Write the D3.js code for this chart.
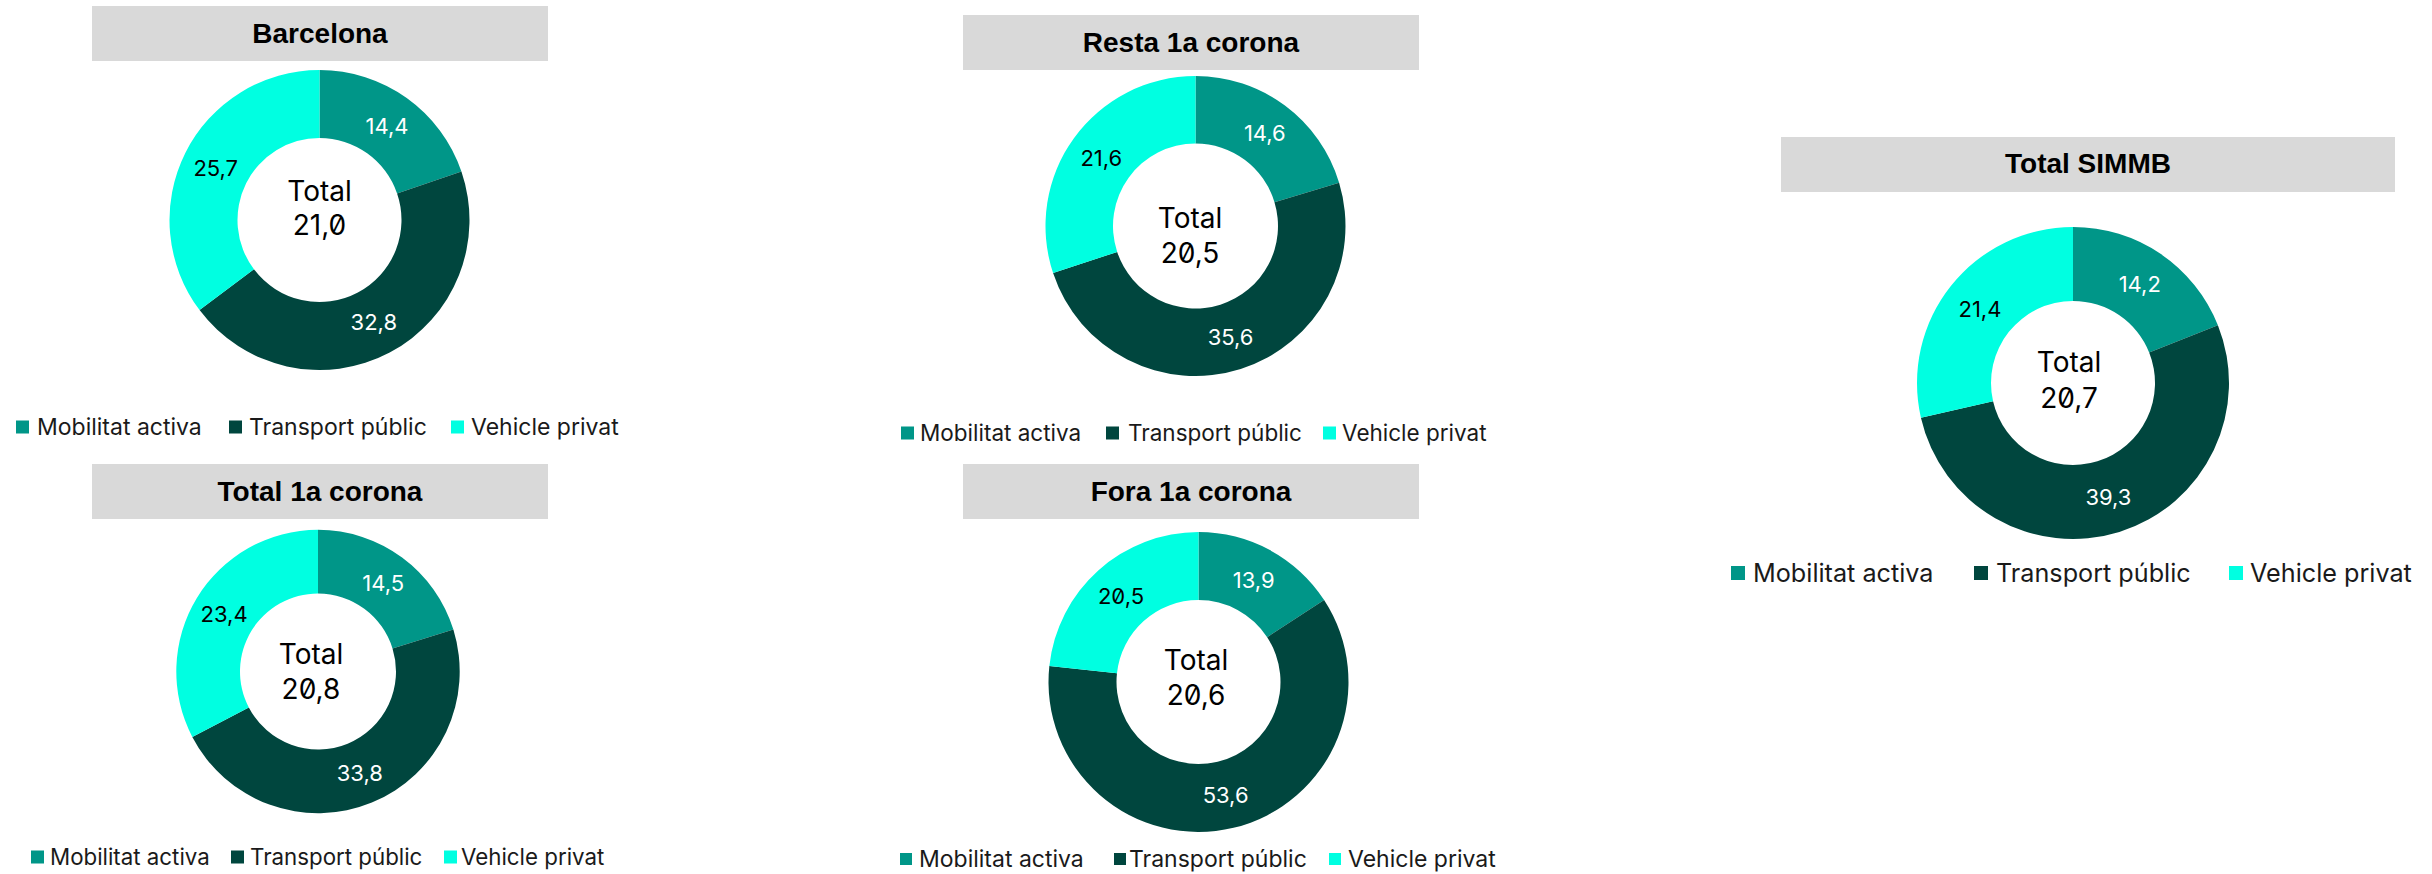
<!DOCTYPE html>
<html>
<head>
<meta charset="utf-8">
<script src="https://cdn.jsdelivr.net/npm/d3@7"></script>
<style>
  body { margin: 0; background: #fff; }
  svg { display: block; font-family: "Inter", "Roboto", sans-serif; }
  .num { font-feature-settings: "zero" 1; }
</style>
</head>
<body>
<svg id="chart" width="2432" height="874"></svg>
<script>
var categories = ['Mobilitat activa', 'Transport públic', 'Vehicle privat'];
var colors = ['#009688', '#00463e', '#00ffe1'];
var labelColors = ['#ffffff', '#ffffff', '#000000'];

var panelTitles = ['Barcelona', 'Resta 1a corona', 'Total 1a corona', 'Fora 1a corona', 'Total SIMMB'];
var mobilitatActiva = [14.4, 14.6, 14.5, 13.9, 14.2];
var transportPublic = [32.8, 35.6, 33.8, 53.6, 39.3];
var vehiclePrivat = [25.7, 21.6, 23.4, 20.5, 21.4];
var totals = [21.0, 20.5, 20.8, 20.6, 20.7];

// placement of each donut on the page (the source is a collage, nothing lines up exactly)
var layout = [
  {box: [92, 6, 548, 61], titleY: 43, cx: 319.5, cy: 220, r: 150, rIn: 82,
   centerX: 319.5, centerY: [191, 225], legendY: 427, sq: [16, 229, 451], tx: [37, 249, 471], sqSize: 13, legendFont: 23},
  {box: [963, 15, 1419, 70], titleY: 52, cx: 1195.5, cy: 226, r: 150, rIn: 82.5,
   centerX: 1190, centerY: [218, 253], legendY: 433, sq: [901, 1106, 1323], tx: [920, 1128, 1342], sqSize: 13, legendFont: 22.5},
  {box: [92, 464, 548, 519], titleY: 501, cx: 318, cy: 671.5, r: 141.7, rIn: 78,
   centerX: 311, centerY: [654, 689], legendY: 857, sq: [31, 231, 444], tx: [50, 250, 461], sqSize: 13, legendFont: 22.3},
  {box: [963, 464, 1419, 519], titleY: 501, cx: 1198.5, cy: 682, r: 150, rIn: 82,
   centerX: 1196, centerY: [660, 695], legendY: 859, sq: [900, 1114, 1329], tx: [919, 1129, 1348], sqSize: 12, legendFont: 23},
  {box: [1781, 137, 2395, 192], titleY: 173, cx: 2073, cy: 383, r: 156, rIn: 82,
   centerX: 2069, centerY: [362, 398], legendY: 573, sq: [1731, 1974, 2229], tx: [1753, 1996, 2250], sqSize: 14, legendFont: 25.2}
];

var fmt = (v) => d3.format('.1f')(v).replace('.', ',');

var svg = d3.select('#chart');

var pie = d3.pie().sort(null).value((d) => d.value);

panelTitles.forEach(function(title, i) {
  var L = layout[i];
  var data = categories.map((c, k) => ({
    key: c,
    value: [mobilitatActiva, transportPublic, vehiclePrivat][k][i],
    color: colors[k],
    labelColor: labelColors[k]
  }));
  var g = svg.append('g').attr('class', 'panel');

  // grey title band
  g.append('rect')
    .attr('x', L.box[0]).attr('y', L.box[1])
    .attr('width', L.box[2] - L.box[0]).attr('height', L.box[3] - L.box[1])
    .attr('fill', '#d9d9d9');
  g.append('text')
    .attr('x', (L.box[0] + L.box[2]) / 2).attr('y', L.titleY)
    .attr('text-anchor', 'middle')
    .attr('font-family', '"Liberation Sans", Arial, sans-serif')
    .attr('font-weight', 'bold').attr('font-size', 28)
    .attr('fill', '#000')
    .text(title);

  var arc = d3.arc().innerRadius(L.rIn).outerRadius(L.r);
  var arcs = pie(data);
  var donut = g.append('g')
    .attr('transform', 'translate(' + L.cx + ',' + L.cy + ')');

  donut.selectAll('path')
    .data(arcs)
    .enter().append('path')
    .attr('d', arc)
    .attr('fill', (d) => d.data.color);

  // value labels sit on the middle of the ring
  donut.selectAll('text.val')
    .data(arcs)
    .enter().append('text')
    .attr('class', 'val num')
    .attr('transform', (d) => 'translate(' + arc.centroid(d) + ')')
    .attr('dy', '0.36em')
    .attr('text-anchor', 'middle')
    .attr('font-size', 22)
    .attr('fill', (d) => d.data.labelColor)
    .text((d) => fmt(d.data.value));

  // "Total" in the hole
  g.selectAll('text.ctr')
    .data(['Total', fmt(totals[i])])
    .enter().append('text')
    .attr('class', 'ctr num')
    .attr('x', L.centerX)
    .attr('y', (d, k) => L.centerY[k])
    .attr('dy', '0.36em')
    .attr('text-anchor', 'middle')
    .attr('font-size', 28)
    .attr('fill', '#000')
    .text((d) => d);

  // legend row
  var leg = g.selectAll('g.leg')
    .data(data)
    .enter().append('g')
    .attr('class', 'leg');
  leg.append('rect')
    .attr('x', (d, k) => L.sq[k])
    .attr('y', L.legendY - L.sqSize / 2)
    .attr('width', L.sqSize).attr('height', L.sqSize)
    .attr('fill', (d) => d.color);
  leg.append('text')
    .attr('x', (d, k) => L.tx[k])
    .attr('y', L.legendY)
    .attr('dy', '0.36em')
    .attr('font-size', L.legendFont)
    .attr('fill', '#1a1a1a')
    .text((d) => d.key);
});
</script>
</body>
</html>
